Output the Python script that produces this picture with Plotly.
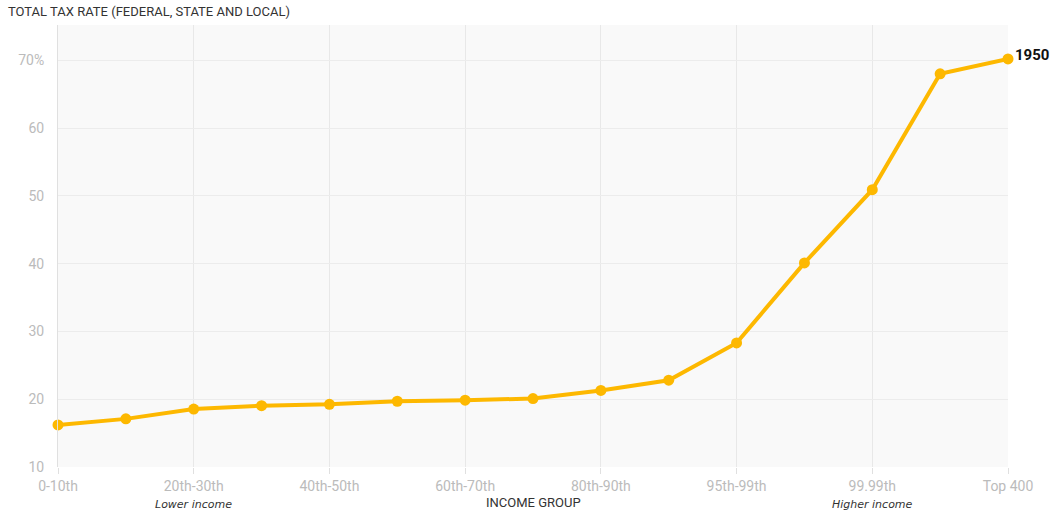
import plotly.graph_objects as go

categories = ["0-10th", "10th-20th", "20th-30th", "30th-40th", "40th-50th", "50th-60th",
              "60th-70th", "70th-80th", "80th-90th", "90th-95th", "95th-99th",
              "99th-99.9th", "99.99th", "Top 0.01%", "Top 400"]
tax_rate_1950 = [16.2, 17.1, 18.55, 19.05, 19.25, 19.7, 19.85, 20.1, 21.3, 22.8, 28.3,
                 40.1, 50.9, 68.0, 70.2]
tick_labels = ["0-10th", "20th-30th", "40th-50th", "60th-70th", "80th-90th",
               "95th-99th", "99.99th", "Top 400"]
y_ticks = [10, 20, 30, 40, 50, 60, 70]
y_tick_text = ["10", "20", "30", "40", "50", "60", "70%"]
series_name = "1950"

COLOR = "#FDB800"
FONT = "Roboto, Liberation Sans, Arial, sans-serif"
WIDE = "DejaVu Sans, Verdana, sans-serif"

fig = go.Figure()
fig.add_trace(go.Scatter(
    x=categories, y=tax_rate_1950, mode="lines+markers",
    line=dict(color=COLOR, width=4),
    marker=dict(color=COLOR, size=11),
    name=series_name, cliponaxis=False, hoverinfo="x+y",
))

fig.add_annotation(x=categories[-1], y=tax_rate_1950[-1], text="<b>" + series_name + "</b>",
                   showarrow=False, xanchor="left", yanchor="middle", xshift=5, yshift=4,
                   font=dict(family=FONT, size=15, color="#111"))

fig.add_annotation(x=0, y=1, xref="paper", yref="paper", text="TOTAL TAX RATE (FEDERAL, STATE AND LOCAL)",
                   showarrow=False, xanchor="left", yanchor="bottom", xshift=-52, yshift=4,
                   font=dict(family=FONT, size=13, color="#333"))
fig.add_annotation(x=categories[2], y=0, yref="paper", text="Lower income",
                   showarrow=False, xanchor="center", yanchor="top", yshift=-29,
                   font=dict(family=WIDE, size=11, color="#333", style="italic"))
fig.add_annotation(x=categories[12], y=0, yref="paper", text="Higher income",
                   showarrow=False, xanchor="center", yanchor="top", yshift=-29,
                   font=dict(family=WIDE, size=11, color="#333", style="italic"))
fig.add_annotation(x=categories[7], y=0, yref="paper", text="INCOME GROUP",
                   showarrow=False, xanchor="center", yanchor="top", yshift=-26,
                   font=dict(family=FONT, size=13, color="#333"))

fig.update_layout(
    width=1054, height=511,
    margin=dict(l=58, r=46, t=25, b=44),
    paper_bgcolor="white", plot_bgcolor="#f9f9f9",
    showlegend=False,
    font=dict(family=FONT),
    xaxis=dict(
        type="category", categoryorder="array", categoryarray=categories,
        range=[0, len(categories) - 1],
        tickmode="array", tickvals=tick_labels, ticktext=tick_labels,
        showgrid=True, gridcolor="#e8e8e8", gridwidth=1,
        ticks="outside", ticklen=6, tickcolor="#e0e0e0",
        tickfont=dict(family=FONT, size=14, color="#bbbbbb"),
        showline=False, zeroline=False,
    ),
    yaxis=dict(
        range=[10, 75.2],
        tickmode="array", tickvals=y_ticks, ticktext=y_tick_text,
        showgrid=True, gridcolor="#ececec", gridwidth=1,
        tickfont=dict(family=FONT, size=14, color="#bbbbbb"),
        showline=True, linecolor="#e0e0e0", linewidth=1,
        zeroline=False, ticks="", ticklabelstandoff=10,
    ),
)

fig.write_html("out.html", config={"displayModeBar": False},
               post_script="document.body.style.margin='0';document.body.style.overflow='hidden';")
